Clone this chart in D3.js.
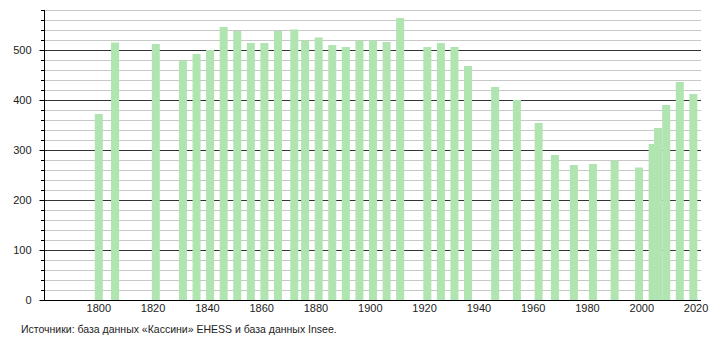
<!DOCTYPE html>
<html><head><meta charset="utf-8">
<script src="https://cdn.jsdelivr.net/npm/d3@7"></script>
<style>body{margin:0;background:#fff}svg{display:block}text{font-family:"Liberation Sans",Arial,sans-serif;fill:#222}</style>
</head><body>
<svg id="c" width="710" height="340"></svg>
<script>
const years = [1800,1806,1821,1831,1836,1841,1846,1851,1856,1861,1866,1872,1876,1881,1886,1891,1896,1901,1906,1911,1921,1926,1931,1936,1946,1954,1962,1968,1975,1982,1990,1999,2004,2006,2009,2014,2019];
const population = [372,515,512,479,492,500,546,538,514,514,538,541,519,525,510,506,519,519,516,564,506,514,506,468,426,400,354,290,270,272,279,265,312,344,390,436,412];
const yTicks = [0,100,200,300,400,500];
const xTicks = [1800,1820,1840,1860,1880,1900,1920,1940,1960,1980,2000,2020];
const sourceText = "Источники: база данных «Кассини» EHESS и база данных Insee.";

const svg = d3.select("#c");
const x = d3.scaleLinear().domain([1780,2022]).range([44,701]);
const y = d3.scaleLinear().domain([0,580]).range([300,10]);
const minor = d3.range(20,581,20).filter(v => v % 100 !== 0);

svg.append("g").selectAll("line").data(minor).join("line")
  .attr("x1",44).attr("x2",701).attr("y1",d=>y(d)+0.5).attr("y2",d=>y(d)+0.5)
  .attr("stroke","#c8c8c8");
svg.append("g").selectAll("line").data(yTicks.filter(d=>d>0)).join("line")
  .attr("x1",44).attr("x2",701).attr("y1",d=>y(d)+0.5).attr("y2",d=>y(d)+0.5)
  .attr("stroke","#333");

const bw = 8;
svg.append("g").selectAll("rect").data(years).join("rect")
  .attr("x",(d)=>x(d)-bw/2+0.5).attr("width",bw)
  .attr("y",(d,i)=>y(population[i])).attr("height",(d,i)=>y(0)-y(population[i]))
  .attr("fill","#b0e4b0");

// axes
const ya = svg.append("g").attr("transform","translate(44.5,0)")
  .call(d3.axisLeft(y).tickValues(yTicks).tickSize(5).tickPadding(8).tickFormat(d3.format("d")));
ya.select(".domain").attr("stroke","#000").attr("d","M0,10V300");
ya.selectAll("text").attr("font-size",11).style("font-family","Liberation Sans, Arial, sans-serif").attr("fill","#222");
ya.selectAll("line").attr("stroke","#000");
svg.append("g").selectAll("line").data(minor).join("line")
  .attr("x1",41).attr("x2",44).attr("y1",d=>y(d)+0.5).attr("y2",d=>y(d)+0.5).attr("stroke","#000");

const xa = svg.append("g").attr("transform","translate(0,300.5)")
  .call(d3.axisBottom(x).tickValues(xTicks).tickSize(0).tickPadding(4).tickFormat(d3.format("d")));
xa.select(".domain").attr("stroke","#000").attr("d","M44,0H701");
xa.selectAll("text").attr("font-size",11).style("font-family","Liberation Sans, Arial, sans-serif").attr("fill","#222");

svg.append("text").attr("x",21).attr("y",333).attr("font-size",10.5).text(sourceText);
</script>
</body></html>
